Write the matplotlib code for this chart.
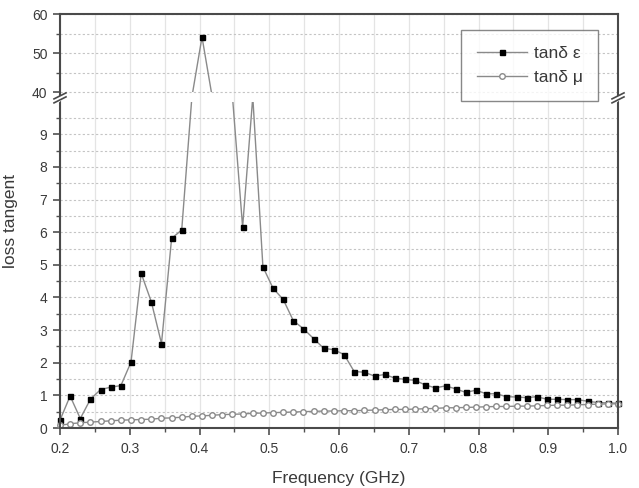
import numpy as np
import matplotlib
matplotlib.use("Agg")
import matplotlib.pyplot as plt
from matplotlib.patches import Rectangle
from matplotlib.ticker import FixedLocator, FixedFormatter

plt.rcParams['font.family'] = ['Liberation Sans', 'DejaVu Sans']

# ---------------- data ----------------
freq = [0.2000, 0.2145, 0.2291, 0.2436, 0.2582, 0.2727, 0.2873, 0.3018,
        0.3164, 0.3309, 0.3455, 0.3600, 0.3745, 0.3891, 0.4036, 0.4182,
        0.4327, 0.4473, 0.4618, 0.4764, 0.4909, 0.5055, 0.5200, 0.5345,
        0.5491, 0.5636, 0.5782, 0.5927, 0.6073, 0.6218, 0.6364, 0.6509,
        0.6655, 0.6800, 0.6945, 0.7091, 0.7236, 0.7382, 0.7527, 0.7673,
        0.7818, 0.7964, 0.8109, 0.8255, 0.8400, 0.8545, 0.8691, 0.8836,
        0.8982, 0.9127, 0.9273, 0.9418, 0.9564, 0.9709, 0.9855, 1.0000]

tan_eps = [0.24, 0.98, 0.29, 0.88, 1.18, 1.25, 1.30, 2.02,
           4.74, 3.87, 2.59, 5.81, 6.07, 25.0, 54.1, 25.0,
           25.0, 25.0, 6.16, 25.0, 4.94, 4.28, 3.94, 3.29,
           3.04, 2.74, 2.44, 2.40, 2.25, 1.73, 1.71, 1.59,
           1.64, 1.53, 1.49, 1.46, 1.32, 1.23, 1.29, 1.20,
           1.09, 1.16, 1.05, 1.05, 0.96, 0.95, 0.93, 0.96,
           0.88, 0.88, 0.87, 0.87, 0.82, 0.78, 0.77, 0.76]

tan_mu = [0.08, 0.13, 0.16, 0.18, 0.20, 0.22, 0.24, 0.25,
          0.26, 0.27, 0.30, 0.31, 0.33, 0.36, 0.37, 0.39,
          0.41, 0.42, 0.43, 0.45, 0.46, 0.47, 0.48, 0.49,
          0.50, 0.51, 0.52, 0.52, 0.53, 0.53, 0.54, 0.55,
          0.56, 0.57, 0.57, 0.58, 0.59, 0.60, 0.62, 0.62,
          0.63, 0.64, 0.65, 0.66, 0.66, 0.67, 0.67, 0.68,
          0.69, 0.70, 0.70, 0.71, 0.72, 0.73, 0.74, 0.74]

x_ticks = [0.2, 0.3, 0.4, 0.5, 0.6, 0.7, 0.8, 0.9, 1.0]
x_ticklabels = ['0.2', '0.3', '0.4', '0.5', '0.6', '0.7', '0.8', '0.9', '1.0']
y_ticks = [0, 1, 2, 3, 4, 5, 6, 7, 8, 9, 40, 50, 60]
y_ticklabels = ['0', '1', '2', '3', '4', '5', '6', '7', '8', '9', '40', '50', '60']
y_minor = [0.5, 1.5, 2.5, 3.5, 4.5, 5.5, 6.5, 7.5, 8.5, 9.5, 45, 55]

# broken-axis mapping: 0-10 linear, 10-40 squeezed into a small gap, 40-60 compressed
LOW_TOP, HIGH_BOT = 10.0, 40.0
GAP = 0.2975
SC = 0.1196


def fwd(y):
    y = np.asarray(y, dtype=float)
    return np.where(y <= LOW_TOP, y,
                    np.where(y <= HIGH_BOT, LOW_TOP + (y - LOW_TOP) * GAP / (HIGH_BOT - LOW_TOP),
                             LOW_TOP + GAP + (y - HIGH_BOT) * SC))


def inv(t):
    t = np.asarray(t, dtype=float)
    return np.where(t <= LOW_TOP, t,
                    np.where(t <= LOW_TOP + GAP, LOW_TOP + (t - LOW_TOP) * (HIGH_BOT - LOW_TOP) / GAP,
                             HIGH_BOT + (t - LOW_TOP - GAP) / SC))


fig = plt.figure(figsize=(6.39, 4.88), dpi=100)
ax = fig.add_axes([60 / 639, 60 / 488, 558 / 639, 414 / 488])
ax.set_yscale('function', functions=(fwd, inv))
ax.set_xlim(0.2, 1.0)
ax.set_ylim(0, 60)

line_col = '#8a8a8a'
for lo, hi, lab in [(0, LOW_TOP, True), (HIGH_BOT, 60, False)]:
    l1, = ax.plot(freq, tan_eps, color=line_col, lw=1.0, marker='s', ms=3.6,
                  mfc='black', mec='black', label='tanδ ε' if lab else None, zorder=3)
    l2, = ax.plot(freq, tan_mu, color=line_col, lw=1.0, marker='o', ms=4.0,
                  mfc='white', mec='#8a8a8a', mew=1.0, label='tanδ μ' if lab else None, zorder=4)
    for ln in (l1, l2):
        r = Rectangle((0.19, lo), 0.82, hi - lo, transform=ax.transData)
        ln.set_clip_path(r)

ax.xaxis.set_major_locator(FixedLocator(x_ticks))
ax.xaxis.set_major_formatter(FixedFormatter(x_ticklabels))
ax.xaxis.set_minor_locator(FixedLocator([0.25, 0.35, 0.45, 0.55, 0.65, 0.75, 0.85, 0.95]))
ax.yaxis.set_major_locator(FixedLocator(y_ticks))
ax.yaxis.set_major_formatter(FixedFormatter(y_ticklabels))
ax.yaxis.set_minor_locator(FixedLocator(y_minor))

ax.grid(axis='y', which='both', ls=(0, (2, 2)), color='#c4c4c4', lw=0.8)
ax.grid(axis='x', which='both', ls='-', color='#e4e4e4', lw=0.9)
ax.set_axisbelow(True)

txt_col = '#3a3a3a'
ax.tick_params(axis='both', which='major', direction='out', length=5, width=1.2,
               colors='#505050', labelcolor=txt_col, labelsize=10)
ax.tick_params(axis='both', which='minor', direction='out', length=3, width=1.0, colors='#505050')
ax.tick_params(axis='y', pad=4)
ax.tick_params(axis='x', pad=5)
for s in ax.spines.values():
    s.set_color('#4a4a4a')
    s.set_linewidth(1.5)
    s.set_zorder(5)

ax.set_xlabel('Frequency (GHz)', fontsize=12.5, color=txt_col, labelpad=11)
ax.set_ylabel('loss tangent', fontsize=12.5, color=txt_col, labelpad=10)

# break marks
H = 414.0
W = 558.0
tb = (LOW_TOP + GAP / 2) / (LOW_TOP + GAP + 20 * SC)
for xc in (0.0, 1.0):
    ax.plot([xc - 5 / W, xc + 5 / W], [tb - 6 / H, tb + 2 / H], transform=ax.transAxes,
            color='white', lw=3.0, clip_on=False, zorder=6, solid_capstyle='butt')
    for d in (-2.0, 2.0):
        ax.plot([xc - 6 / W, xc + 6 / W], [tb - 4 / H + d / H, tb + 2 / H + d / H],
                transform=ax.transAxes, color='#4a4a4a', lw=1.2, clip_on=False, zorder=7)

leg = ax.legend(loc='upper right', bbox_to_anchor=((598.3 - 60) / W, (428 - 30) / H),
                borderaxespad=0, frameon=True, fancybox=False, fontsize=12.5,
                handlelength=2.9, handletextpad=0.4, borderpad=0.9, labelspacing=0.55)
leg.get_frame().set_edgecolor('#6a6a6a')
leg.get_frame().set_linewidth(1.0)
leg.set_zorder(8)
for t in leg.get_texts():
    t.set_color(txt_col)

fig.savefig('out.png', dpi=100)
